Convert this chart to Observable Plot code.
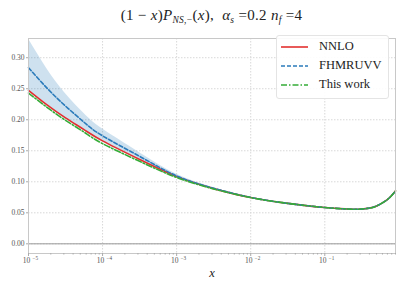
<!DOCTYPE html>
<html>
<head>
<meta charset="utf-8">
<script src="https://cdn.jsdelivr.net/npm/d3@7"></script>
<script src="https://cdn.jsdelivr.net/npm/@observablehq/plot@0.6"></script>
<style>
  body { margin: 0; background: #fff; }
  #wrap { position: relative; width: 407px; height: 291px; font-family: "Liberation Serif", "DejaVu Serif", serif; }
  #title { position: absolute; left: 28px; width: 367px; top: 7px; text-align: center; font-size: 15px; color: #222; white-space: nowrap; letter-spacing: 0.3px; }
  #title sub { font-size: 9.5px; vertical-align: -3px; }
  #legend { position: absolute; left: 276px; top: 35px; width: 111px; height: 62px; border: 1px solid #e4e4e4; border-radius: 3px; background: rgba(255,255,255,0.9); font-size: 12.5px; color: #222; }
  .row { position: absolute; left: 0; height: 19px; display: flex; align-items: center; }
  .row svg { margin-left: 4px; margin-right: 11px; }
  svg { overflow: visible; }
</style>
</head>
<body>
<div id="wrap">
  <div id="title">(1 − <i>x</i>)<i>P</i><sub><i>NS</i>,−</sub>(<i>x</i>),&nbsp; <i>α</i><sub><i>s</i></sub> =0.2 <i>n</i><sub><i>f</i></sub> =4</div>
  <div id="chart"></div>
  <div id="legend"></div>
</div>
<script>
// log10(x) sample positions
const logx = [-5, -4.75, -4.5, -4.25, -4, -3.5, -3, -2.5, -2, -1.5, -1, -0.7, -0.55, -0.4, -0.3, -0.2, -0.12, -0.046];
const nnlo  = [0.2475, 0.224, 0.203, 0.184, 0.166, 0.136, 0.1085, 0.089, 0.0746, 0.0652, 0.0585, 0.0562, 0.0557, 0.0575, 0.061, 0.0676, 0.075, 0.0853];
const fhmr  = [0.284, 0.251, 0.222, 0.196, 0.174, 0.141, 0.1095, 0.0895, 0.0748, 0.0652, 0.0585, 0.0562, 0.0557, 0.0575, 0.061, 0.0676, 0.075, 0.0853];
const thisw = [0.243, 0.220, 0.199, 0.180, 0.1615, 0.133, 0.107, 0.0885, 0.0745, 0.0652, 0.0585, 0.0562, 0.0557, 0.0575, 0.061, 0.0676, 0.075, 0.0853];
const bandHi = [0.330, 0.282, 0.242, 0.210, 0.185, 0.147, 0.112, 0.0905, 0.0752, 0.0655, 0.0588, 0.0565, 0.056, 0.0578, 0.0613, 0.0679, 0.0753, 0.0856];
const bandLo = [0.245, 0.222, 0.201, 0.182, 0.164, 0.135, 0.108, 0.0885, 0.0742, 0.0649, 0.0582, 0.0559, 0.0554, 0.0572, 0.0607, 0.0673, 0.0747, 0.085];
const xTicks = [1e-5, 1e-4, 1e-3, 1e-2, 1e-1];
const xTickExp = ["−5", "−4", "−3", "−2", "−1"];
const yTicks = [0, 0.05, 0.10, 0.15, 0.20, 0.25, 0.30];
const series = ["NNLO", "FHMRUVV", "This work"];
const colors = ["#e3302f", "#2b7bba", "#35ac37"];
const dashes = [null, "4,2", "6,2,1.5,2"];

const rows = logx.map((l, i) => ({x: Math.pow(10, l), nnlo: nnlo[i], fhmr: fhmr[i], thisw: thisw[i], hi: bandHi[i], lo: bandLo[i]}));
const minor = [];
for (let e = -5; e <= -1; e++) for (let k = 2; k <= 9; k++) { const v = k * Math.pow(10, e); if (v <= 0.9) minor.push(v); }

const font = "Liberation Serif, DejaVu Serif, serif";
const chart = Plot.plot({
  width: 407, height: 291,
  marginLeft: 28, marginRight: 12, marginTop: 38, marginBottom: 38,
  style: {fontFamily: font, background: "white", overflow: "visible"},
  x: {type: "log", domain: [1e-5, 0.9]},
  y: {domain: [-0.0156, 0.331]},
  marks: [
    Plot.gridX(xTicks, {stroke: "#d8d8d8", strokeOpacity: 1, strokeDasharray: "1.5,1.5"}),
    Plot.gridY(yTicks, {stroke: "#d8d8d8", strokeOpacity: 1, strokeDasharray: "1.5,1.5"}),
    Plot.ruleY([0], {stroke: "#999", strokeWidth: 1}),
    Plot.areaY(rows, {x: "x", y1: "lo", y2: "hi", fill: "#1f77b4", fillOpacity: 0.22, curve: "natural"}),
    Plot.lineY(rows, {x: "x", y: "nnlo", stroke: colors[0], strokeWidth: 1.6, curve: "natural"}),
    Plot.lineY(rows, {x: "x", y: "fhmr", stroke: colors[1], strokeWidth: 1.6, strokeDasharray: dashes[1], curve: "natural"}),
    Plot.lineY(rows, {x: "x", y: "thisw", stroke: colors[2], strokeWidth: 1.6, strokeDasharray: dashes[2], curve: "natural"}),
    Plot.frame({stroke: "#c8c8c8", strokeWidth: 1}),
    Plot.axisX({ticks: minor, tickFormat: () => "", tickSize: 1.5, stroke: "#aaa", label: null}),
    Plot.axisX({ticks: xTicks, tickFormat: () => "", tickSize: 3, stroke: "#aaa", label: null}),
    Plot.text(xTicks, {x: d => d, frameAnchor: "bottom", dy: 9, dx: -2, text: () => "10", fontSize: 7.5, fill: "#555", textAnchor: "middle"}),
    Plot.text(xTicks, {x: d => d, frameAnchor: "bottom", dy: 6, dx: 4, text: (d, i) => xTickExp[i], fontSize: 5.2, fill: "#555", textAnchor: "start"}),
    Plot.axisY({ticks: yTicks, tickFormat: d3.format(".2f"), tickSize: 2, tickPadding: 2, fontSize: 7.5, stroke: "#aaa", fill: "#555", label: null}),
    Plot.text(["x"], {frameAnchor: "bottom", dy: 23, fontSize: 12.5, fontStyle: "italic", fill: "#222", fontFamily: font})
  ]
});
document.getElementById("chart").appendChild(chart);

// legend
const leg = document.getElementById("legend");
series.forEach((s, i) => {
  const r = document.createElement("div");
  r.className = "row";
  r.style.top = (i * 19 + 1) + "px";
  const sv = d3.create("svg").attr("width", 27).attr("height", 6);
  sv.append("line").attr("x1", 0).attr("x2", 27).attr("y1", 3).attr("y2", 3)
    .attr("stroke", colors[i]).attr("stroke-width", 1.6).attr("stroke-dasharray", dashes[i]);
  r.appendChild(sv.node());
  const t = document.createElement("span");
  t.textContent = s;
  r.appendChild(t);
  leg.appendChild(r);
});
</script>
</body>
</html>
